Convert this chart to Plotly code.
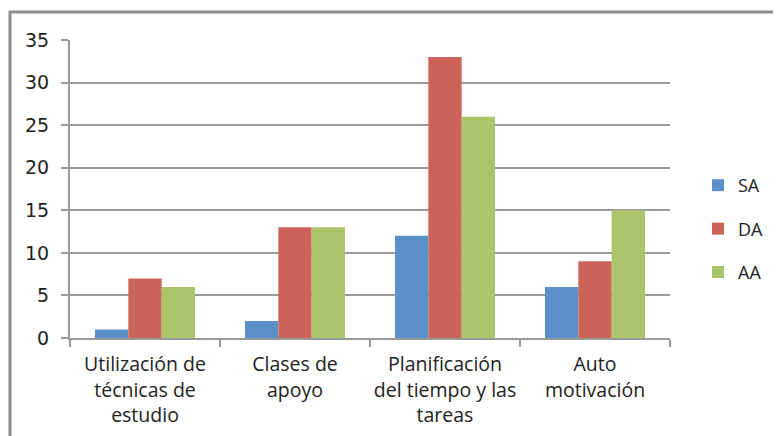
import plotly.graph_objects as go

categories = ["Utilización de<br>técnicas de<br>estudio", "Clases de<br>apoyo",
              "Planificación<br>del tiempo y las<br>tareas", "Auto<br>motivación"]
series_names = ["SA", "DA", "AA"]
sa = [1, 2, 12, 6]
da = [7, 13, 33, 9]
aa = [6, 13, 26, 15]
colors = ["#5A8FC7", "#CB6359", "#ABC46A"]
y_ticks = [0, 5, 10, 15, 20, 25, 30, 35]

fig = go.Figure()
for i, (name, vals) in enumerate(zip(series_names, [sa, da, aa])):
    fig.add_trace(go.Bar(x=categories, y=vals, name=name, marker_color=colors[i],
                         marker_line_width=0, legendgroup=name))

# page body has an 8px margin; figure is sized to fit the 781x436 window
W, H = 773, 428
ml, mr, mt, mb = 62, 111, 32, 98
pw, ph = W - ml - mr, H - mt - mb

fig.update_layout(
    width=W, height=H,
    margin=dict(l=ml, r=mr, t=mt, b=mb, autoexpand=False),
    paper_bgcolor="white", plot_bgcolor="white",
    barmode="group", bargap=1/3, bargroupgap=0,
    font=dict(family="Open Sans", size=16, color="#222"),
    legend=dict(xref="container", yref="container", x=690 / W, y=1 - 159 / H,
                xanchor="left", yanchor="top",
                font=dict(size=18, family="Open Sans", color="#222"),
                traceorder="grouped", tracegroupgap=17, itemwidth=30),
    xaxis=dict(showline=True, linecolor="#999", linewidth=2, ticks="outside",
               tickson="boundaries", ticklen=7, tickcolor="#999", tickwidth=2,
               ticklabelstandoff=8, tickangle=0,
               tickfont=dict(family="Open Sans", size=19.5, color="#222")),
    yaxis=dict(range=[0, 35], tickvals=y_ticks, showgrid=True, gridcolor="#999", gridwidth=2,
               showline=True, linecolor="#999", linewidth=2, ticks="outside", ticklen=7,
               tickcolor="#999", tickwidth=2, zeroline=False, ticklabelstandoff=8,
               tickfont=dict(family="DejaVu Sans", size=19, color="#222")),
    shapes=[dict(type="rect", xref="paper", yref="paper",
                 x0=(2 - ml) / pw, x1=1.5, y0=-1, y1=(330 - 4) / ph,
                 line=dict(color="#8c8c8c", width=3), fillcolor="rgba(0,0,0,0)", layer="below")],
)

fig.write_html("out.html")
